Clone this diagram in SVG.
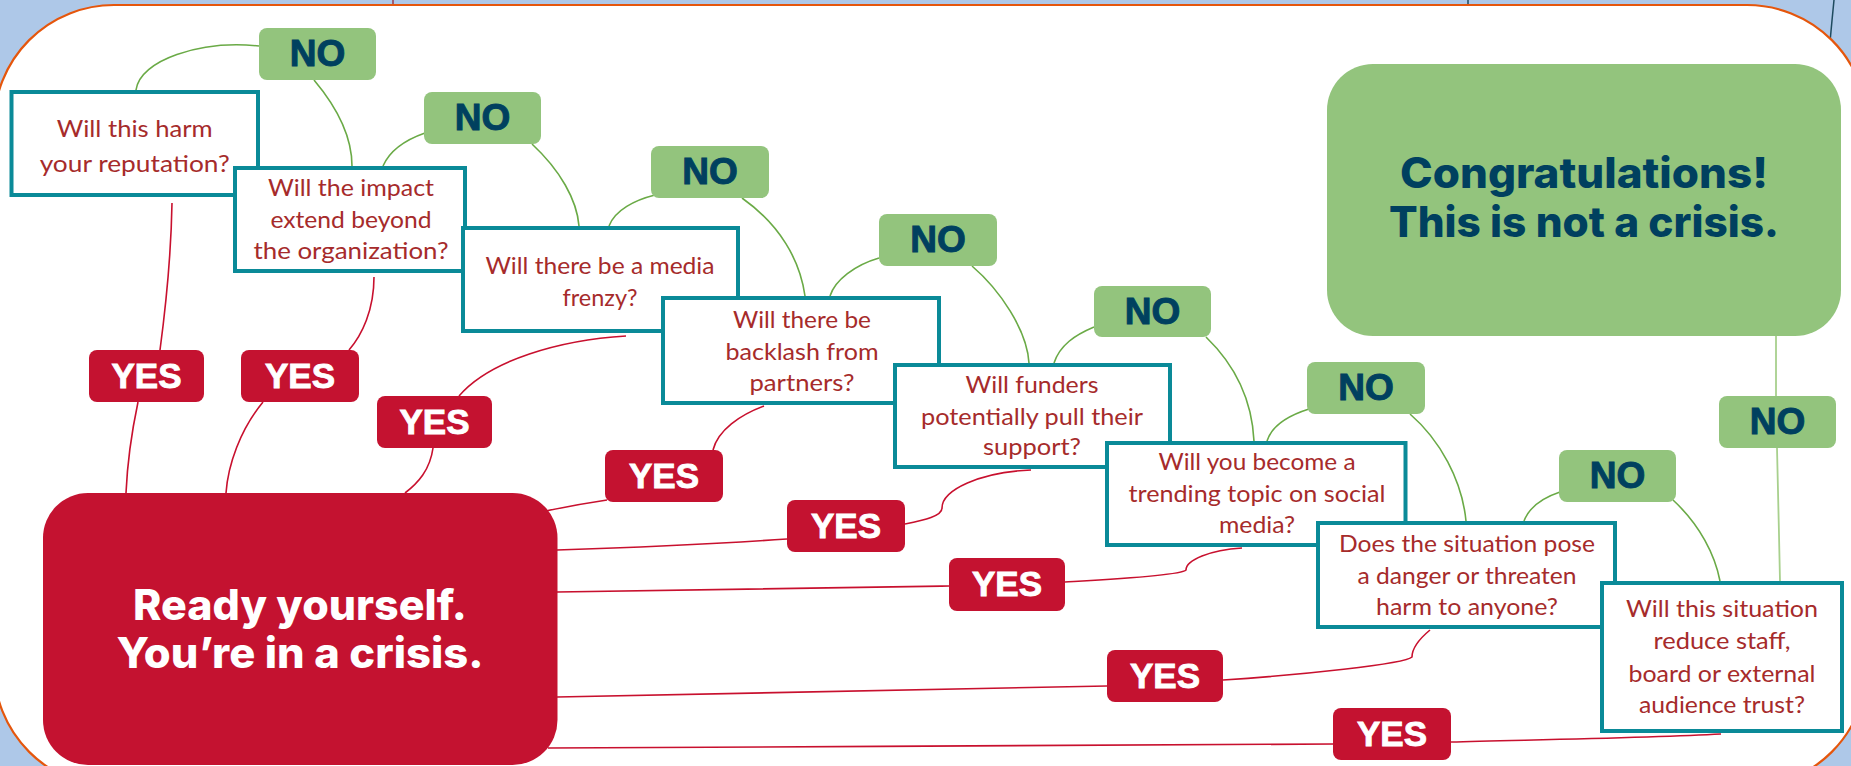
<svg xmlns="http://www.w3.org/2000/svg" width="1851" height="766" viewBox="0 0 1851 766">
<defs>
<style>
.q{fill:#fff;stroke:#0a8a98;stroke-width:4}
.qt{font-family:Lato,'Liberation Sans',sans-serif;font-size:24px;fill:#a62b2b;text-anchor:middle}
.no{fill:#93c47d}
.nt{font-family:'Liberation Sans',Arial,sans-serif;font-weight:bold;font-size:37px;fill:#00405f;stroke:#00405f;stroke-width:1;text-anchor:middle}
.ys{fill:#c41230}
.yt{font-family:'Liberation Sans',Arial,sans-serif;font-weight:bold;font-size:35px;fill:#fff;stroke:#fff;stroke-width:0.9;text-anchor:middle}
.g{fill:none;stroke:#6aaa46;stroke-width:1.6}
.g2{fill:none;stroke:#a8d08d;stroke-width:1.8}
.r{fill:none;stroke:#c8102e;stroke-width:1.6}
.big{font-family:Inter,'Open Sans',sans-serif;font-weight:800;font-size:42px;text-anchor:middle}
</style>
</defs>
<rect x="0" y="0" width="1851" height="766" fill="#aec8e8"/>
<g id="decor" fill="none" stroke-width="1.5">
<line x1="393" y1="0" x2="393" y2="6" stroke="#9a3a4c"/>
<line x1="1468" y1="0" x2="1468" y2="6" stroke="#1e4a5e"/>
<path d="M1834,0 Q1832,20 1830,42" stroke="#1e4a5e"/>
</g>
<rect id="panel" x="-6" y="5" width="1873" height="782" rx="120" fill="#fff" stroke="#e5560c" stroke-width="2.2"/>

<g id="connectors">
<path class="g" d="M136,90 C140,60 200,40 259,46"/>
<path class="g" d="M314,80 C335,105 352,135 352,166"/>
<path class="g" d="M383,166 C390,150 405,140 425,133"/>
<path class="g" d="M532,144 C560,170 577,200 579,226"/>
<path class="g" d="M609,226 C615,210 635,200 655,195"/>
<path class="g" d="M742,198 C780,225 800,260 805,296"/>
<path class="g" d="M830,296 C835,280 855,265 879,258"/>
<path class="g" d="M972,266 C1000,290 1027,330 1029,363"/>
<path class="g" d="M1054,363 C1060,345 1075,335 1094,327"/>
<path class="g" d="M1206,337 C1235,365 1252,400 1254,441"/>
<path class="g" d="M1267,441 C1272,425 1290,415 1309,409"/>
<path class="g" d="M1410,414 C1440,440 1462,480 1466,521"/>
<path class="g" d="M1524,521 C1530,505 1545,497 1560,492"/>
<path class="g" d="M1673,500 C1700,525 1715,555 1720,581"/>
<path class="g2" d="M1780,581 C1779,540 1778,480 1777,448"/>
<path class="g2" d="M1776,396 L1776,336"/>

<path class="r" d="M172,203 C171,260 164,320 160,350"/>
<path class="r" d="M138,402 C130,440 127,470 126,493"/>
<path class="r" d="M374,277 C374,310 362,335 349,350"/>
<path class="r" d="M263,402 C240,430 228,465 226,493"/>
<path class="r" d="M626,336 C560,340 490,360 459,396"/>
<path class="r" d="M433,448 C430,470 418,483 405,493"/>
<path class="r" d="M764,406 C740,415 718,430 713,450"/>
<path class="r" d="M607,500 C580,504 560,508 546,511"/>
<path class="r" d="M1031,470 C980,472 942,490 942,508 C942,516 925,520 905,524"/>
<path class="r" d="M787,539 C700,545 620,548 557,550"/>
<path class="r" d="M1242,548 C1210,550 1186,560 1186,570 C1180,576 1100,580 1065,582"/>
<path class="r" d="M949,586 C800,589 650,591 557,592"/>
<path class="r" d="M1430,630 C1418,640 1412,650 1412,657 C1405,664 1300,675 1223,680"/>
<path class="r" d="M1107,686 C900,690 700,694 557,697"/>
<path class="r" d="M1721,734 C1650,738 1520,740 1451,742"/>
<path class="r" d="M1333,744 C1100,745 800,747 548,748"/>
</g>

<g id="crisis">
<rect x="43" y="493" width="514.5" height="272" rx="45" fill="#c41230"/>
<text class="big" fill="#fff" x="300" y="620" textLength="334" lengthAdjust="spacingAndGlyphs">Ready yourself.</text>
<text class="big" fill="#fff" x="300" y="668" textLength="367" lengthAdjust="spacingAndGlyphs">You’re in a crisis.</text>
</g>
<g id="not-crisis">
<rect x="1327" y="64" width="514" height="272" rx="46" fill="#93c47d"/>
<text class="big" fill="#00405f" x="1584" y="188" textLength="368" lengthAdjust="spacingAndGlyphs">Congratulations!</text>
<text class="big" fill="#00405f" x="1584" y="237" textLength="390" lengthAdjust="spacingAndGlyphs">This is not a crisis.</text>
</g>

<g id="q1">
<rect class="q" x="11.5" y="92" width="246.5" height="103"/>
<text class="qt" x="134.7" y="137" textLength="156" lengthAdjust="spacingAndGlyphs">Will this harm</text>
<text class="qt" x="134.7" y="172" textLength="190" lengthAdjust="spacingAndGlyphs">your reputation?</text>
</g>
<g id="q2">
<rect class="q" x="235" y="168" width="230" height="103"/>
<text class="qt" x="351" y="196" textLength="166" lengthAdjust="spacingAndGlyphs">Will the impact</text>
<text class="qt" x="351" y="228" textLength="161" lengthAdjust="spacingAndGlyphs">extend beyond</text>
<text class="qt" x="351" y="259" textLength="195" lengthAdjust="spacingAndGlyphs">the organization?</text>
</g>
<g id="q3">
<rect class="q" x="463" y="228" width="275" height="103"/>
<text class="qt" x="600" y="274" textLength="229" lengthAdjust="spacingAndGlyphs">Will there be a media</text>
<text class="qt" x="600" y="306" textLength="75" lengthAdjust="spacingAndGlyphs">frenzy?</text>
</g>
<g id="q4">
<rect class="q" x="663" y="298" width="276" height="105"/>
<text class="qt" x="802" y="328" textLength="138" lengthAdjust="spacingAndGlyphs">Will there be</text>
<text class="qt" x="802" y="360" textLength="153" lengthAdjust="spacingAndGlyphs">backlash from</text>
<text class="qt" x="802" y="391" textLength="105" lengthAdjust="spacingAndGlyphs">partners?</text>
</g>
<g id="q5">
<rect class="q" x="895" y="365" width="275" height="102"/>
<text class="qt" x="1032" y="393" textLength="133" lengthAdjust="spacingAndGlyphs">Will funders</text>
<text class="qt" x="1032" y="425" textLength="222" lengthAdjust="spacingAndGlyphs">potentially pull their</text>
<text class="qt" x="1032" y="455" textLength="98" lengthAdjust="spacingAndGlyphs">support?</text>
</g>
<g id="q6">
<rect class="q" x="1107" y="443" width="298.5" height="102"/>
<text class="qt" x="1257" y="470" textLength="197" lengthAdjust="spacingAndGlyphs">Will you become a</text>
<text class="qt" x="1257" y="502" textLength="257" lengthAdjust="spacingAndGlyphs">trending topic on social</text>
<text class="qt" x="1257" y="533" textLength="76" lengthAdjust="spacingAndGlyphs">media?</text>
</g>
<g id="q7">
<rect class="q" x="1318" y="523" width="297" height="104"/>
<text class="qt" x="1467" y="552" textLength="256" lengthAdjust="spacingAndGlyphs">Does the situation pose</text>
<text class="qt" x="1467" y="584" textLength="219" lengthAdjust="spacingAndGlyphs">a danger or threaten</text>
<text class="qt" x="1467" y="615" textLength="182" lengthAdjust="spacingAndGlyphs">harm to anyone?</text>
</g>
<g id="q8">
<rect class="q" x="1602" y="583" width="240" height="148"/>
<text class="qt" x="1722" y="617" textLength="192" lengthAdjust="spacingAndGlyphs">Will this situation</text>
<text class="qt" x="1722" y="649" textLength="137" lengthAdjust="spacingAndGlyphs">reduce staff,</text>
<text class="qt" x="1722" y="682" textLength="187" lengthAdjust="spacingAndGlyphs">board or external</text>
<text class="qt" x="1722" y="713" textLength="166" lengthAdjust="spacingAndGlyphs">audience trust?</text>
</g>

<g id="no1"><rect class="no" x="259" y="28" width="117" height="52" rx="8"/><text class="nt" x="317.5" y="66">NO</text></g>
<g id="no2"><rect class="no" x="424" y="92" width="117" height="52" rx="8"/><text class="nt" x="482.5" y="130">NO</text></g>
<g id="no3"><rect class="no" x="651" y="146" width="118" height="52" rx="8"/><text class="nt" x="710" y="184">NO</text></g>
<g id="no4"><rect class="no" x="879" y="214" width="118" height="52" rx="8"/><text class="nt" x="938" y="252">NO</text></g>
<g id="no5"><rect class="no" x="1094" y="286" width="117" height="51" rx="8"/><text class="nt" x="1152.5" y="324">NO</text></g>
<g id="no6"><rect class="no" x="1307" y="362" width="118" height="52" rx="8"/><text class="nt" x="1366" y="400">NO</text></g>
<g id="no7"><rect class="no" x="1559" y="450" width="117" height="52" rx="8"/><text class="nt" x="1617.5" y="488">NO</text></g>
<g id="no8"><rect class="no" x="1719" y="396" width="117" height="52" rx="8"/><text class="nt" x="1777.5" y="434">NO</text></g>

<g id="yes1"><rect class="ys" x="89" y="350" width="115" height="52" rx="8"/><text class="yt" x="146.5" y="388">YES</text></g>
<g id="yes2"><rect class="ys" x="241" y="350" width="118" height="52" rx="8"/><text class="yt" x="300" y="388">YES</text></g>
<g id="yes3"><rect class="ys" x="377" y="396" width="115" height="52" rx="8"/><text class="yt" x="434.5" y="434">YES</text></g>
<g id="yes4"><rect class="ys" x="605" y="450" width="118" height="52" rx="8"/><text class="yt" x="664" y="488">YES</text></g>
<g id="yes5"><rect class="ys" x="787" y="500" width="118" height="52" rx="8"/><text class="yt" x="846" y="538">YES</text></g>
<g id="yes6"><rect class="ys" x="949" y="558" width="116" height="53" rx="8"/><text class="yt" x="1007" y="596">YES</text></g>
<g id="yes7"><rect class="ys" x="1107" y="650" width="116" height="52" rx="8"/><text class="yt" x="1165" y="688">YES</text></g>
<g id="yes8"><rect class="ys" x="1333" y="708" width="118" height="52" rx="8"/><text class="yt" x="1392" y="746">YES</text></g>
</svg>
